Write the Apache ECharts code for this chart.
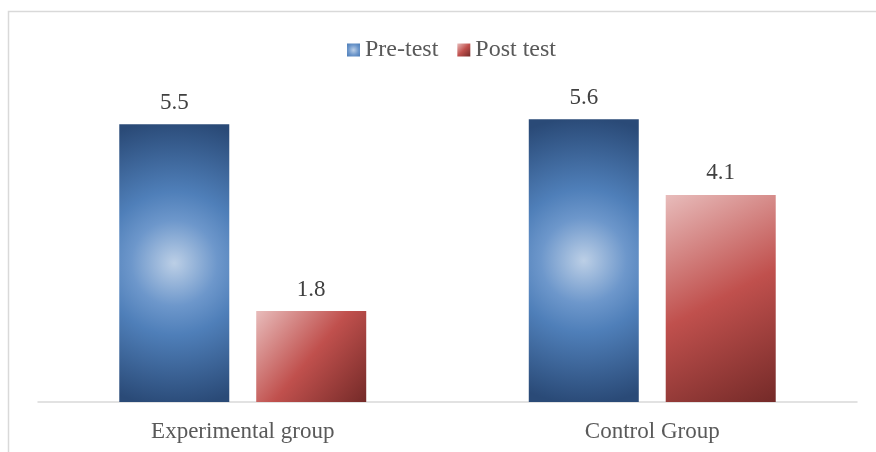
<!DOCTYPE html>
<html>
<head>
<meta charset="utf-8">
<script src="https://cdn.jsdelivr.net/npm/echarts@6/dist/echarts.min.js"></script>
<style>
  html, body { margin: 0; padding: 0; background: #fff; }
  #chart { width: 876px; height: 452px; }
</style>
</head>
<body>
<div id="chart"></div>
<script>
// data
const categories = ['Experimental group', 'Control Group'];
const preTest = [5.5, 5.6];
const postTest = [1.8, 4.1];

const myechart = echarts.init(document.getElementById('chart'));

// blue: light centre, dark edges
const blueFill = new echarts.graphic.RadialGradient(0.5, 0.5, 1.3, [
  { offset: 0, color: '#bccfe6' },
  { offset: 0.3, color: '#6d97cb' },
  { offset: 0.5, color: '#4f7fb9' },
  { offset: 1, color: '#2a4a77' }
]);
// red: light top-left to dark bottom-right
const redFill = new echarts.graphic.LinearGradient(0, 0, 1, 1, [
  { offset: 0, color: '#e8bcbb' },
  { offset: 0.5, color: '#c0504d' },
  { offset: 1, color: '#742a28' }
]);

const labelStyle = {
  show: true,
  position: 'top',
  distance: 10,
  color: '#404040',
  fontSize: 23,
  fontFamily: 'Liberation Serif'
};

const option = {
  animation: false,
  textStyle: { fontFamily: 'Liberation Serif' },
  graphic: [{
    type: 'rect',
    shape: { x: 8.5, y: 11.5, width: 900, height: 500 },
    style: { fill: 'none', stroke: '#d9d9d9', lineWidth: 1.5 },
    silent: true
  }],
  legend: {
    data: ['Pre-test', 'Post test'],
    left: 342,
    top: 33,
    itemWidth: 13,
    itemHeight: 13,
    itemGap: 19,
    icon: 'rect',
    textStyle: { color: '#595959', fontSize: 24, fontFamily: 'Liberation Serif' }
  },
  grid: { left: 38, right: 19, top: 99, bottom: 50 },
  xAxis: {
    type: 'category',
    data: categories,
    axisTick: { show: false },
    axisLine: { lineStyle: { color: '#d9d9d9', width: 1.5 } },
    axisLabel: { color: '#595959', fontSize: 23, margin: 18, fontFamily: 'Liberation Serif' }
  },
  yAxis: {
    type: 'value',
    min: 0,
    max: 6,
    show: false
  },
  series: [
    {
      name: 'Pre-test',
      type: 'bar',
      barWidth: 110,
      barGap: '24.5%',
      itemStyle: { color: blueFill },
      label: labelStyle,
      data: preTest
    },
    {
      name: 'Post test',
      type: 'bar',
      barWidth: 110,
      itemStyle: { color: redFill },
      label: labelStyle,
      data: postTest
    }
  ]
};
myechart.setOption(option);
</script>
</body>
</html>
